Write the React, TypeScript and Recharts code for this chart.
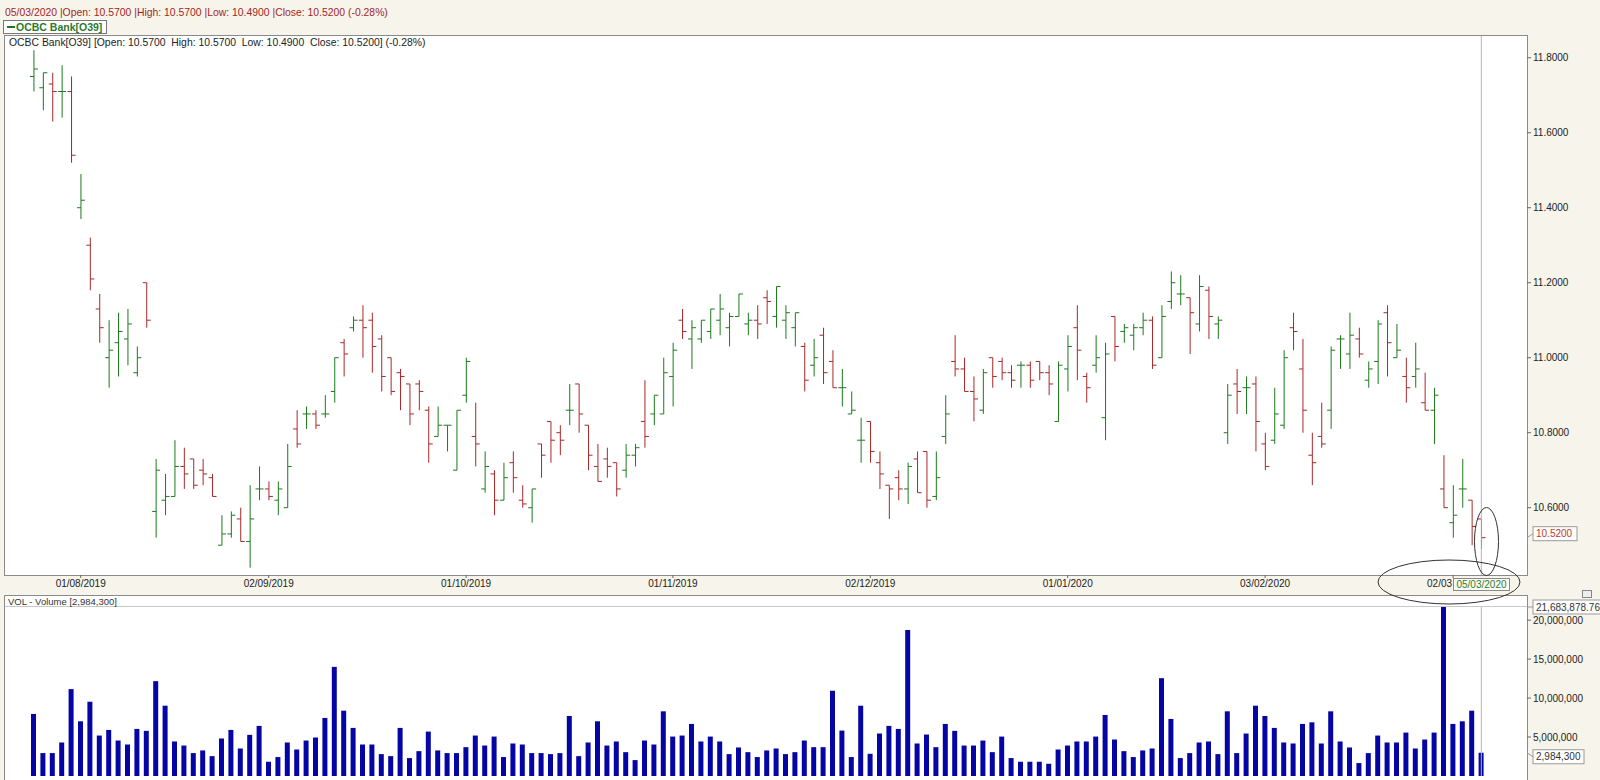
import React from 'react'
import { ComposedChart, Bar, XAxis, YAxis, ReferenceLine } from 'recharts'

// SGX trading days, 25 Jul 2019 .. 5 Mar 2020
const firstDay = '2019-07-25'
const lastDay = '2020-03-05'
const holidays = ['2019-08-09', '2019-08-12', '2019-10-28', '2019-12-25', '2020-01-01', '2020-01-27']

function tradingDays(from: string, to: string, skip: string[]) {
  const out: string[] = []
  const d = new Date(from + 'T00:00:00Z')
  const end = new Date(to + 'T00:00:00Z')
  while (d <= end) {
    const iso = d.toISOString().slice(0, 10)
    const wd = d.getUTCDay()
    if (wd !== 0 && wd !== 6 && !skip.includes(iso)) {
      out.push(`${iso.slice(8, 10)}/${iso.slice(5, 7)}/${iso.slice(0, 4)}`)
    }
    d.setUTCDate(d.getUTCDate() + 1)
  }
  return out
}

const dates = tradingDays(firstDay, lastDay, holidays)

const opens = [
  11.75, 11.72, 11.73, 11.71, 11.71, 11.40, 11.30, 11.13, 11.00, 11.04,
  11.05, 10.96, 11.20, 10.59, 10.62, 10.63, 10.71, 10.73, 10.70, 10.68,
  10.50, 10.53, 10.57, 10.51, 10.65, 10.65, 10.62, 10.60, 10.81, 10.85,
  10.85, 10.85, 10.91, 11.04, 11.08, 11.10, 11.10, 11.05, 11.00, 10.96,
  10.93, 10.93, 10.86, 10.79, 10.82, 10.70, 10.90, 10.79, 10.65, 10.69,
  10.62, 10.72, 10.62, 10.60, 10.77, 10.83, 10.80, 10.86, 10.93, 10.82,
  10.71, 10.73, 10.72, 10.70, 10.74, 10.83, 10.85, 10.85, 10.95, 11.10,
  11.05, 11.05, 11.07, 11.10, 11.08, 11.11, 11.09, 11.10, 11.16, 11.11,
  11.10, 11.08, 11.03, 10.98, 11.06, 10.99, 10.92, 10.85, 10.78, 10.83,
  10.72, 10.66, 10.68, 10.65, 10.73, 10.75, 10.63, 10.79, 10.99, 10.97,
  10.91, 10.86, 11.00, 10.99, 10.96, 10.98, 10.98, 10.99, 10.96, 10.83,
  10.97, 11.08, 10.95, 10.98, 10.84, 11.11, 11.07, 11.06, 11.08, 11.10,
  11.00, 11.15, 11.17, 11.16, 11.09, 11.18, 11.09, 10.80, 10.93, 10.92,
  10.93, 10.77, 10.78, 10.82, 11.08, 10.97, 10.74, 10.79, 10.86, 11.05,
  11.01, 11.05, 10.94, 10.99, 11.12, 11.00, 10.95, 10.95, 10.88, 10.86,
  10.65, 10.56, 10.65, 10.62, 10.57,
]

const highs = [
  11.82, 11.76, 11.76, 11.78, 11.75, 11.49, 11.32, 11.17, 11.10, 11.12,
  11.13, 11.03, 11.20, 10.73, 10.69, 10.78, 10.76, 10.73, 10.73, 10.69,
  10.58, 10.59, 10.60, 10.66, 10.71, 10.67, 10.67, 10.77, 10.86, 10.87,
  10.86, 10.90, 11.00, 11.05, 11.11, 11.14, 11.12, 11.06, 11.00, 10.97,
  10.93, 10.94, 10.87, 10.87, 10.82, 10.86, 11.00, 10.88, 10.75, 10.70,
  10.72, 10.75, 10.66, 10.65, 10.77, 10.83, 10.82, 10.93, 10.93, 10.82,
  10.77, 10.76, 10.72, 10.77, 10.77, 10.94, 10.90, 11.00, 11.04, 11.13,
  11.10, 11.10, 11.13, 11.17, 11.12, 11.17, 11.12, 11.14, 11.18, 11.19,
  11.14, 11.12, 11.04, 11.05, 11.08, 11.02, 10.97, 10.91, 10.84, 10.83,
  10.75, 10.66, 10.70, 10.72, 10.75, 10.75, 10.75, 10.90, 11.06, 11.00,
  10.95, 10.97, 11.00, 11.00, 10.98, 10.99, 10.99, 10.99, 10.98, 10.99,
  11.06, 11.14, 10.96, 11.06, 11.04, 11.11, 11.09, 11.09, 11.12, 11.11,
  11.14, 11.23, 11.22, 11.16, 11.22, 11.19, 11.11, 10.93, 10.97, 10.95,
  10.95, 10.80, 10.92, 11.02, 11.12, 11.05, 10.80, 10.88, 11.03, 11.06,
  11.12, 11.08, 10.99, 11.10, 11.14, 11.09, 11.00, 11.04, 10.96, 10.92,
  10.74, 10.66, 10.73, 10.62, 10.57,
]

const lows = [
  11.71, 11.66, 11.63, 11.64, 11.52, 11.37, 11.18, 11.04, 10.92, 10.95,
  10.98, 10.95, 11.08, 10.52, 10.58, 10.63, 10.65, 10.65, 10.66, 10.63,
  10.50, 10.52, 10.51, 10.44, 10.62, 10.62, 10.58, 10.60, 10.76, 10.81,
  10.81, 10.84, 10.88, 10.95, 11.07, 11.00, 10.96, 10.91, 10.90, 10.86,
  10.82, 10.86, 10.72, 10.79, 10.75, 10.70, 10.88, 10.71, 10.64, 10.58,
  10.62, 10.64, 10.60, 10.56, 10.68, 10.72, 10.74, 10.82, 10.80, 10.70,
  10.67, 10.68, 10.63, 10.68, 10.71, 10.76, 10.82, 10.85, 10.87, 11.05,
  10.97, 11.04, 11.05, 11.06, 11.03, 11.11, 11.06, 11.05, 11.09, 11.08,
  11.05, 11.03, 10.91, 10.95, 10.93, 10.92, 10.87, 10.85, 10.72, 10.72,
  10.65, 10.57, 10.62, 10.61, 10.64, 10.60, 10.62, 10.77, 10.95, 10.91,
  10.83, 10.85, 10.92, 10.94, 10.92, 10.92, 10.92, 10.94, 10.90, 10.83,
  10.91, 10.94, 10.88, 10.96, 10.78, 10.99, 11.04, 11.02, 11.06, 10.97,
  11.00, 11.13, 11.14, 11.01, 11.07, 11.05, 11.05, 10.77, 10.85, 10.85,
  10.75, 10.70, 10.77, 10.81, 11.02, 10.80, 10.66, 10.76, 10.81, 10.97,
  10.97, 11.00, 10.92, 10.93, 10.95, 11.00, 10.88, 10.92, 10.86, 10.77,
  10.60, 10.52, 10.60, 10.50, 10.49,
]

const closes = [
  11.77, 11.76, 11.71, 11.71, 11.54, 11.42, 11.21, 11.08, 11.02, 11.07,
  11.09, 11.00, 11.10, 10.70, 10.63, 10.71, 10.69, 10.66, 10.69, 10.63,
  10.53, 10.58, 10.51, 10.57, 10.65, 10.63, 10.65, 10.71, 10.77, 10.85,
  10.82, 10.85, 11.00, 11.01, 11.10, 11.08, 11.03, 10.95, 10.91, 10.95,
  10.85, 10.91, 10.77, 10.82, 10.82, 10.86, 10.99, 10.77, 10.71, 10.62,
  10.68, 10.68, 10.61, 10.65, 10.74, 10.78, 10.78, 10.86, 10.85, 10.74,
  10.67, 10.71, 10.65, 10.74, 10.76, 10.79, 10.90, 10.96, 11.02, 11.07,
  11.08, 11.10, 11.13, 11.13, 11.11, 11.17, 11.10, 11.09, 11.15, 11.19,
  11.12, 11.12, 10.94, 11.00, 10.96, 10.92, 10.92, 10.86, 10.78, 10.75,
  10.69, 10.65, 10.65, 10.71, 10.64, 10.62, 10.68, 10.85, 10.97, 10.91,
  10.89, 10.96, 10.95, 10.96, 10.94, 10.98, 10.94, 10.96, 10.93, 10.98,
  11.03, 11.02, 10.92, 11.00, 11.01, 11.03, 11.08, 11.08, 11.10, 10.98,
  11.11, 11.20, 11.17, 11.12, 11.19, 11.11, 11.10, 10.90, 10.91, 10.92,
  10.83, 10.71, 10.85, 11.00, 11.07, 10.86, 10.72, 10.77, 11.02, 11.05,
  11.06, 11.01, 10.97, 11.09, 11.04, 11.02, 10.92, 10.97, 10.86, 10.90,
  10.60, 10.58, 10.65, 10.55, 10.52,
]

// volume in millions of shares
const volumeMillions = [
  7.96, 2.94, 2.94, 4.30, 11.15, 7.02, 9.53, 5.19, 5.91, 4.55,
  4.04, 6.04, 5.79, 12.17, 9.02, 4.43, 3.91, 2.94, 3.28, 2.55,
  4.81, 5.91, 3.53, 5.28, 6.43, 1.83, 2.43, 4.30, 3.40, 4.55,
  4.94, 7.45, 14.0, 8.38, 6.17, 4.04, 4.04, 2.81, 2.55, 6.17,
  2.30, 3.19, 5.70, 3.28, 2.94, 2.94, 3.70, 5.19, 3.91, 5.06,
  2.43, 4.17, 4.04, 2.94, 2.94, 2.81, 2.94, 7.70, 2.55, 4.30,
  7.02, 3.91, 4.43, 3.06, 2.04, 4.55, 4.04, 8.30, 5.06, 5.19,
  6.68, 4.43, 5.06, 4.43, 2.81, 3.66, 3.06, 2.43, 3.28, 3.53,
  2.81, 3.06, 4.55, 3.70, 3.70, 10.94, 5.83, 2.43, 9.02, 2.85,
  5.45, 6.43, 6.04, 18.72, 4.17, 5.32, 3.70, 6.68, 5.79, 3.91,
  3.91, 4.55, 3.06, 5.06, 2.30, 1.83, 1.83, 1.83, 1.57, 3.40,
  3.91, 4.43, 4.43, 5.06, 7.83, 4.68, 3.19, 2.43, 3.28, 3.53,
  12.55, 7.32, 2.30, 2.94, 4.30, 4.43, 2.81, 8.30, 2.94, 5.45,
  9.02, 7.70, 6.17, 4.30, 4.17, 6.68, 6.89, 4.17, 8.30, 4.43,
  3.66, 1.66, 2.94, 5.19, 4.30, 4.30, 5.57, 3.53, 4.68, 5.57,
  21.6838787, 6.68, 7.02, 8.38, 2.9843,
]

const priceTicks = [10.6, 10.8, 11.0, 11.2, 11.4, 11.6, 11.8]
const priceDomain = [10.4205, 11.858]
const volumeTicks = [5000000, 10000000, 15000000, 20000000]
const volumeMax = 21683878.76
const dateTicks = ['01/08/2019', '02/09/2019', '01/10/2019', '01/11/2019', '02/12/2019', '02/01/2020', '03/02/2020', '02/03/2020']
const dateTickLabels = ['01/08/2019', '02/09/2019', '01/10/2019', '01/11/2019', '02/12/2019', '01/01/2020', '03/02/2020', '02/03']

const rows = dates.map((date, i) => ({
  date,
  open: opens[i],
  high: highs[i],
  low: lows[i],
  close: closes[i],
  range: [lows[i], highs[i]],
  volume: volumeMillions[i] * 1000000,
}))

const lastRow = rows[rows.length - 1]

const font = '"Liberation Sans", Arial, sans-serif'
const pageBg = '#f7f5eb'
const upColor = '#1c7a1c'
const downColor = '#a82828'
const volColor = '#0505a6'

function OhlcShape(props: any) {
  const { x, y, width, height, payload } = props
  if (x == null || !payload) return null
  const cx = x + width / 2
  const top = Math.min(y, y + height)
  const span = Math.abs(height)
  const range = payload.high - payload.low
  const at = (v: number) => (range > 0 ? top + ((payload.high - v) / range) * span : top)
  const color = payload.close >= payload.open ? upColor : downColor
  return (
    <g stroke={color} strokeWidth={1}>
      <line x1={cx} x2={cx} y1={top} y2={top + span} />
      <line x1={cx - 4} x2={cx} y1={at(payload.open)} y2={at(payload.open)} />
      <line x1={cx} x2={cx + 4} y1={at(payload.close)} y2={at(payload.close)} />
    </g>
  )
}

// the last month label is partly hidden behind the cursor date box, so it is cut short
function DateTick(props: any) {
  const { x, y, payload } = props
  const i = dateTicks.indexOf(payload.value)
  const label = i >= 0 ? dateTickLabels[i] : payload.value
  const cut = i === dateTicks.length - 1
  return (
    <text
      x={cut ? x - 1 : x}
      y={y}
      dy="0.71em"
      textAnchor={cut ? 'end' : 'middle'}
      fontSize={10}
      fontFamily={font}
      fill="#222"
    >
      {label}
    </text>
  )
}

function ValueTag(props: any) {
  const { viewBox, text, color, dy = 0, w } = props
  if (!viewBox) return null
  const x0 = viewBox.x + viewBox.width
  const y0 = viewBox.y
  const bx = x0 + 6
  const by = y0 + dy
  return (
    <g>
      <line x1={x0} y1={y0} x2={bx} y2={by} stroke="#999" />
      <rect x={bx} y={by - 7} width={w} height={14} fill="#fff" stroke="#999" />
      <text x={bx + 3} y={by + 3.5} fontSize={10} fontFamily={font} fill={color}>
        {text}
      </text>
    </g>
  )
}

export default function App() {
  return (
    <div
      style={{
        position: 'absolute',
        left: 0,
        top: 0,
        width: 1600,
        height: 780,
        background: pageBg,
        overflow: 'hidden',
        fontFamily: font,
      }}
    >
      <div style={{ position: 'absolute', left: 5, top: 7, fontSize: 10.4, lineHeight: '12px', color: '#a31f1f', whiteSpace: 'pre' }}>
        05/03/2020 |Open: 10.5700 |High: 10.5700 |Low: 10.4900 |Close: 10.5200 (-0.28%)
      </div>
      <div
        style={{
          position: 'absolute',
          left: 3,
          top: 20,
          width: 104,
          height: 14,
          boxSizing: 'border-box',
          border: '1px solid #777',
          background: '#fff',
        }}
      >
        <div style={{ position: 'absolute', left: 3, top: 5, width: 8, height: 2, background: upColor }} />
        <div style={{ position: 'absolute', left: 12, top: 0, fontSize: 10.5, lineHeight: '12px', fontWeight: 'bold', color: '#2a7a2a' }}>
          OCBC Bank[O39]
        </div>
      </div>

      {/* panel frames */}
      <div style={{ position: 'absolute', left: 4, top: 35, width: 1524, height: 541, boxSizing: 'border-box', border: '1px solid #8a8a8a', background: '#fff' }} />
      <div style={{ position: 'absolute', left: 4, top: 595, width: 1524, height: 190, boxSizing: 'border-box', border: '1px solid #8a8a8a', background: '#fff' }} />
      <div style={{ position: 'absolute', left: 5, top: 606, width: 1522, height: 1, background: '#c8c8c8' }} />

      <div style={{ position: 'absolute', left: 9, top: 37, fontSize: 10.4, lineHeight: '12px', color: '#222', whiteSpace: 'pre' }}>
        OCBC Bank[O39] [Open: 10.5700  High: 10.5700  Low: 10.4900  Close: 10.5200] (-0.28%)
      </div>
      <div style={{ position: 'absolute', left: 8, top: 596, fontSize: 9.5, lineHeight: '11px', color: '#333', whiteSpace: 'pre' }}>
        VOL - Volume [2,984,300]
      </div>

      <div style={{ position: 'absolute', left: 0, top: 0 }}>
        <ComposedChart width={1600} height={595} data={rows} margin={{ top: 36, right: 0, bottom: 0, left: 5 }}>
          <XAxis
            dataKey="date"
            height={20}
            padding={{ left: 24, right: 41 }}
            ticks={dateTicks}
            interval={0}
            axisLine={false}
            tickSize={3}
            tickMargin={2}
            tickLine={{ stroke: '#666' }}
            tick={<DateTick />}
          />
          <YAxis
            orientation="right"
            width={73}
            domain={priceDomain}
            ticks={priceTicks}
            allowDataOverflow
            axisLine={false}
            tickSize={4}
            tickMargin={2}
            tickLine={{ stroke: '#666' }}
            tickFormatter={(v: number) => v.toFixed(4)}
            tick={{ fontSize: 10, fill: '#222', fontFamily: font, textAnchor: 'start' }}
          />
          <ReferenceLine x={lastRow.date} stroke="#b4b4b4" />
          <Bar dataKey="range" shape={<OhlcShape />} isAnimationActive={false} />
          <ReferenceLine
            y={lastRow.close}
            stroke="none"
            label={<ValueTag text={lastRow.close.toFixed(4)} color="#c0392b" dy={-4} w={44} />}
          />
        </ComposedChart>
      </div>

      <div style={{ position: 'absolute', left: 0, top: 595 }}>
        <ComposedChart width={1600} height={185} data={rows} margin={{ top: 12, right: 0, bottom: 4, left: 5 }}>
          <XAxis dataKey="date" hide padding={{ left: 24, right: 41 }} />
          <YAxis
            orientation="right"
            width={73}
            domain={[0, volumeMax]}
            ticks={volumeTicks}
            allowDataOverflow
            axisLine={false}
            tickSize={4}
            tickMargin={2}
            tickLine={{ stroke: '#666' }}
            tickFormatter={(v: number) => v.toLocaleString('en-US')}
            tick={{ fontSize: 10, fill: '#222', fontFamily: font, textAnchor: 'start' }}
          />
          <ReferenceLine x={lastRow.date} stroke="#b4b4b4" />
          <Bar dataKey="volume" fill={volColor} barSize={5} isAnimationActive={false} />
          <ReferenceLine
            y={lastRow.volume}
            stroke="none"
            label={<ValueTag text="2,984,300" color="#333" dy={4} w={51} />}
          />
          <ReferenceLine
            y={volumeMax}
            stroke="none"
            label={<ValueTag text="21,683,878.76" color="#333" dy={0} w={75} />}
          />
        </ComposedChart>
      </div>

      {/* date cursor label */}
      <div
        style={{
          position: 'absolute',
          left: 1453,
          top: 578,
          width: 57,
          height: 13,
          boxSizing: 'border-box',
          border: '1px solid #8a8a8a',
          background: '#fbfaf4',
          color: '#2e7d2e',
          fontSize: 10,
          lineHeight: '11px',
          textAlign: 'center',
        }}
      >
        05/03/2020
      </div>
      <div style={{ position: 'absolute', left: 1582, top: 590, width: 10, height: 8, boxSizing: 'border-box', border: '1px solid #888', background: '#eee' }} />

      {/* hand-drawn annotation ellipses */}
      <svg width={1600} height={780} style={{ position: 'absolute', left: 0, top: 0, pointerEvents: 'none' }}>
        <ellipse cx={1486.5} cy={541.5} rx={12} ry={34} fill="none" stroke="#333" strokeWidth={1} />
        <ellipse cx={1449} cy={582} rx={71} ry={22} fill="none" stroke="#333" strokeWidth={1} />
      </svg>
    </div>
  )
}
